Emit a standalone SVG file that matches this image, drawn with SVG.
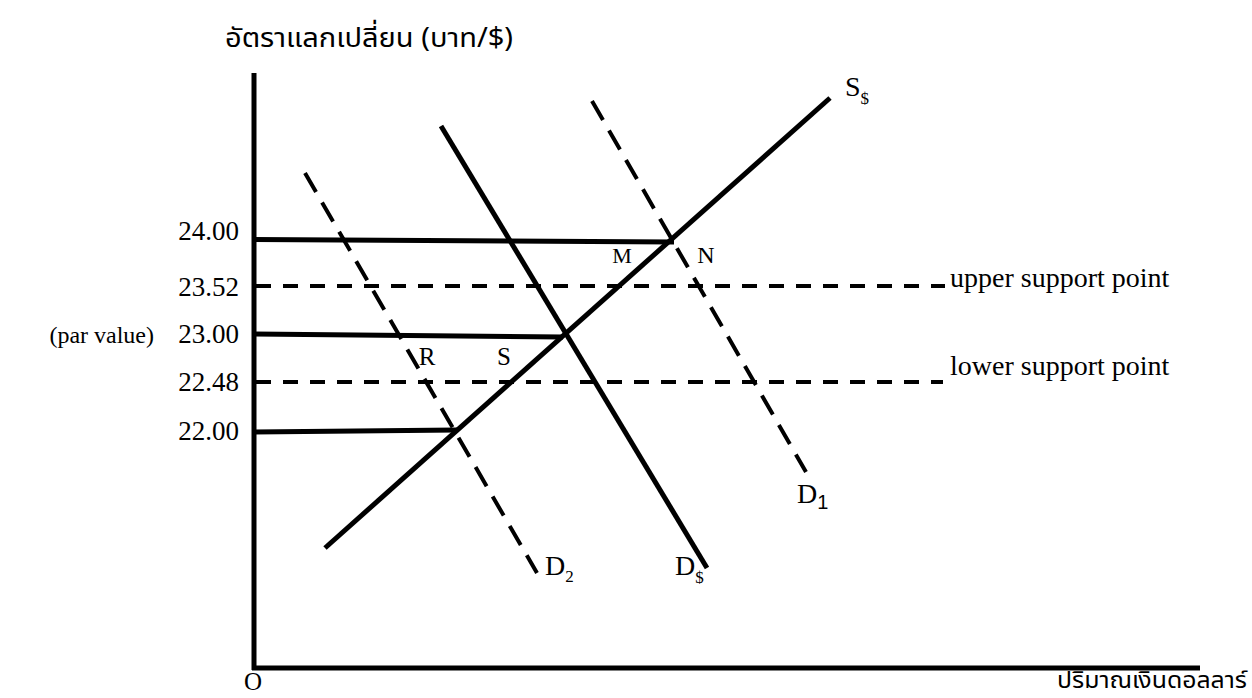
<svg xmlns="http://www.w3.org/2000/svg" width="1252" height="698" viewBox="0 0 1252 698">
<style>
.ax{stroke:#000;stroke-width:5;fill:none}
.ln{stroke:#000;stroke-width:5;fill:none;stroke-linecap:butt}
.hd{stroke:#000;stroke-width:4;fill:none;stroke-dasharray:15 12}
.dd{stroke:#000;stroke-width:4;fill:none;stroke-dasharray:22 12}
.t{font-family:"Liberation Serif","Times New Roman",serif;fill:#000}
.th{font-family:"Noto Sans Thai","Noto Serif Thai","Noto Sans",sans-serif;fill:#000}
</style>
<rect width="1252" height="698" fill="#fff"/>
<g id="axes">
<line class="ax" x1="254" y1="73" x2="254" y2="670"/>
<line class="ax" x1="252" y1="668" x2="1200" y2="668"/>
</g>
<g id="connectors">
<line class="ln" x1="254" y1="239.5" x2="674" y2="242"/>
<line class="ln" x1="254" y1="334" x2="563" y2="337"/>
<line class="ln" x1="254" y1="432" x2="457" y2="430"/>
<line class="hd" x1="256" y1="286" x2="945" y2="286"/>
<line class="hd" x1="256" y1="382" x2="943" y2="382"/>
</g>
<g id="S_supply"><line class="ln" x1="325" y1="548" x2="830" y2="98"/></g>
<g id="D_dollar"><line class="ln" x1="441" y1="126" x2="707" y2="568"/></g>
<g id="D1"><line class="dd" x1="592" y1="101" x2="806" y2="472"/></g>
<g id="D2"><line class="dd" x1="305" y1="173" x2="537" y2="573"/></g>
<g id="labels">
<text class="th" x="225" y="47" font-size="27" textLength="288" lengthAdjust="spacingAndGlyphs">อัตราแลกเปลี่ยน (บาท/$)</text>
<text class="th" x="1057" y="688" font-size="23" textLength="190" lengthAdjust="spacingAndGlyphs">ปริมาณเงินดอลลาร์</text>
<text class="t" x="239" y="240" font-size="27" text-anchor="end">24.00</text>
<text class="t" x="239" y="296" font-size="27" text-anchor="end">23.52</text>
<text class="t" x="239" y="343" font-size="27" text-anchor="end">23.00</text>
<text class="t" x="239" y="391" font-size="27" text-anchor="end">22.48</text>
<text class="t" x="239" y="440" font-size="27" text-anchor="end">22.00</text>
<text class="t" x="154" y="343" font-size="24" text-anchor="end">(par value)</text>
<text class="t" x="950" y="287" font-size="28">upper support point</text>
<text class="t" x="950" y="375" font-size="28">lower support point</text>
<text class="t" x="622" y="263" font-size="22" text-anchor="middle">M</text>
<text class="t" x="706" y="263" font-size="24" text-anchor="middle">N</text>
<text class="t" x="427" y="365" font-size="25" text-anchor="middle">R</text>
<text class="t" x="504" y="365" font-size="25" text-anchor="middle">S</text>
<text class="t" x="244" y="690" font-size="25">O</text>
<text class="t" x="845" y="96" font-size="28">S<tspan font-size="17" dy="8">$</tspan></text>
<text class="t" x="545" y="575" font-size="28">D<tspan font-size="17" dy="7">2</tspan></text>
<text class="t" x="675" y="575" font-size="28">D<tspan font-size="17" dy="8">$</tspan></text>
<text class="t" x="797" y="503" font-size="28">D<tspan font-family="Liberation Sans,Arial,sans-serif" font-size="20" dy="6">1</tspan></text>
</g>
</svg>
